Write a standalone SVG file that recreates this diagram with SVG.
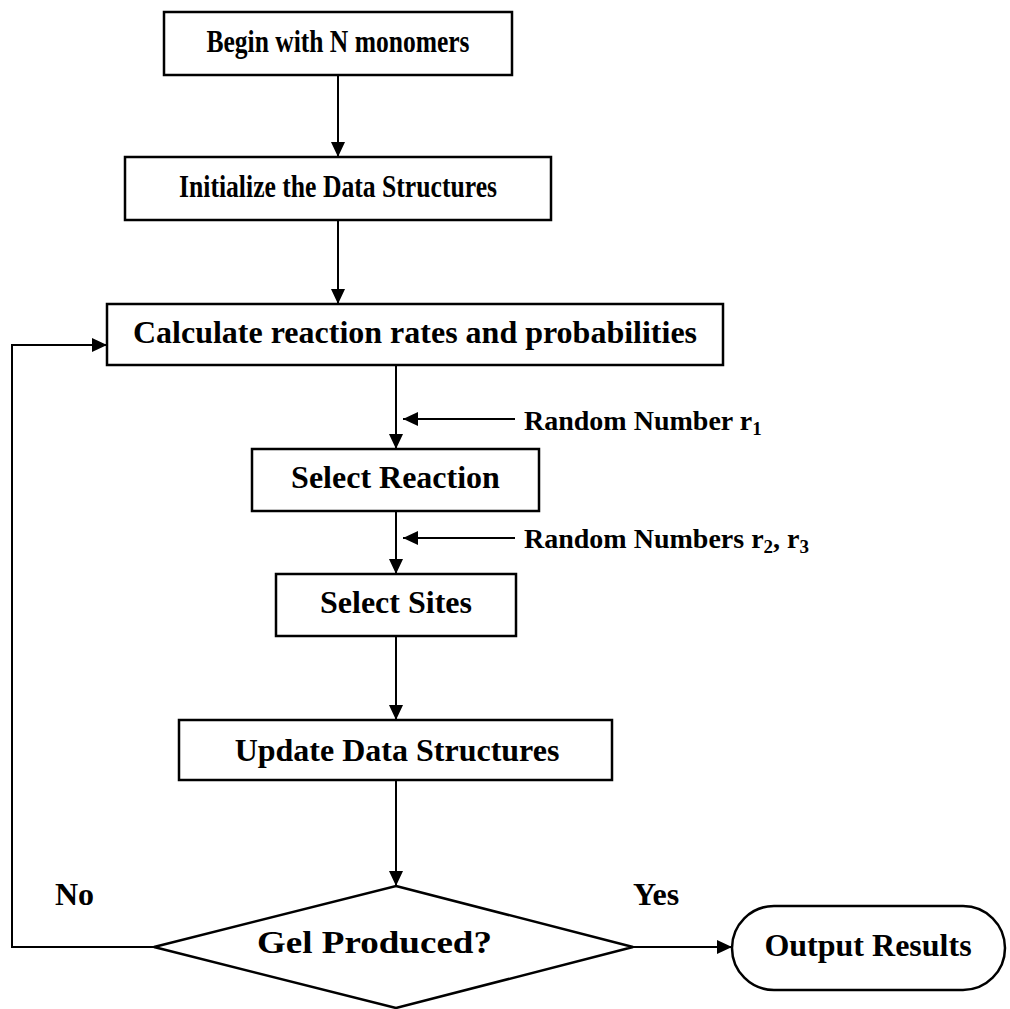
<svg xmlns="http://www.w3.org/2000/svg" width="1010" height="1009" viewBox="0 0 1010 1009">
  <style>
    .box { fill: #ffffff; stroke: #000000; stroke-width: 2.5; }
    .edge { fill: none; stroke: #000000; stroke-width: 2; }
    .lbl { font-family: "Liberation Serif", "Times New Roman", serif; font-weight: bold; font-size: 32px; fill: #000000; }
    .side { font-family: "Liberation Serif", "Times New Roman", serif; font-weight: bold; font-size: 28px; fill: #000000; }
    .sub { font-size: 19px; }
  </style>
  <defs>
    <marker id="arrow" markerUnits="userSpaceOnUse" markerWidth="16" markerHeight="14" refX="15" refY="7" orient="auto">
      <path d="M0,0 L15,7 L0,14 Z" fill="#000000"/>
    </marker>
  </defs>
  <rect width="1010" height="1009" fill="#ffffff"/>

  <!-- connectors -->
  <g id="connectors">
    <line class="edge" x1="338" y1="75" x2="338" y2="157" marker-end="url(#arrow)"/>
    <line class="edge" x1="338" y1="220" x2="338" y2="304" marker-end="url(#arrow)"/>
    <line class="edge" x1="396" y1="365" x2="396" y2="449" marker-end="url(#arrow)"/>
    <line class="edge" x1="396" y1="511" x2="396" y2="574" marker-end="url(#arrow)"/>
    <line class="edge" x1="396" y1="636" x2="396" y2="720" marker-end="url(#arrow)"/>
    <line class="edge" x1="396" y1="780" x2="396" y2="886" marker-end="url(#arrow)"/>
    <polyline class="edge" points="154,947 12,947 12,345 107,345" marker-end="url(#arrow)"/>
    <line class="edge" x1="633" y1="947" x2="732" y2="947" marker-end="url(#arrow)"/>
    <line class="edge" x1="515" y1="419" x2="403" y2="419" marker-end="url(#arrow)"/>
    <line class="edge" x1="515" y1="538" x2="403" y2="538" marker-end="url(#arrow)"/>
    <text class="lbl" x="55" y="905">No</text>
    <text class="lbl" x="633" y="905">Yes</text>
    <text class="side" x="524" y="430">Random Number r<tspan class="sub" dy="5">1</tspan></text>
    <text class="side" x="524" y="548">Random Numbers r<tspan class="sub" dy="5">2</tspan><tspan dy="-5">, r</tspan><tspan class="sub" dy="5">3</tspan></text>
  </g>

  <g id="begin">
    <rect class="box" x="164" y="12" width="348" height="63"/>
    <text class="lbl" x="338" y="52" text-anchor="middle" font-size="28" textLength="263" lengthAdjust="spacingAndGlyphs">Begin with N monomers</text>
  </g>

  <g id="init">
    <rect class="box" x="125" y="157" width="426" height="63"/>
    <text class="lbl" x="338" y="197" text-anchor="middle" font-size="28" textLength="318" lengthAdjust="spacingAndGlyphs">Initialize the Data Structures</text>
  </g>

  <g id="rates">
    <rect class="box" x="107" y="304" width="616" height="61"/>
    <text class="lbl" x="415" y="343" text-anchor="middle">Calculate reaction rates and probabilities</text>
  </g>

  <g id="select-reaction">
    <rect class="box" x="252" y="449" width="287" height="62"/>
    <text class="lbl" x="395.5" y="488" text-anchor="middle">Select Reaction</text>
  </g>

  <g id="select-sites">
    <rect class="box" x="276" y="574" width="240" height="62"/>
    <text class="lbl" x="396" y="613" text-anchor="middle">Select Sites</text>
  </g>

  <g id="update">
    <rect class="box" x="179" y="720" width="433" height="60"/>
    <text class="lbl" x="397" y="761" text-anchor="middle">Update Data Structures</text>
  </g>

  <g id="gel-check">
    <polygon class="box" stroke-width="2" points="396,886 633,947 396,1008 154,947"/>
    <text class="lbl" x="374.5" y="953" text-anchor="middle" textLength="235" lengthAdjust="spacingAndGlyphs">Gel Produced?</text>
  </g>

  <g id="output">
    <rect class="box" x="732" y="906" width="273" height="84" rx="42" ry="42"/>
    <text class="lbl" x="868" y="956" text-anchor="middle">Output Results</text>
  </g>
</svg>
